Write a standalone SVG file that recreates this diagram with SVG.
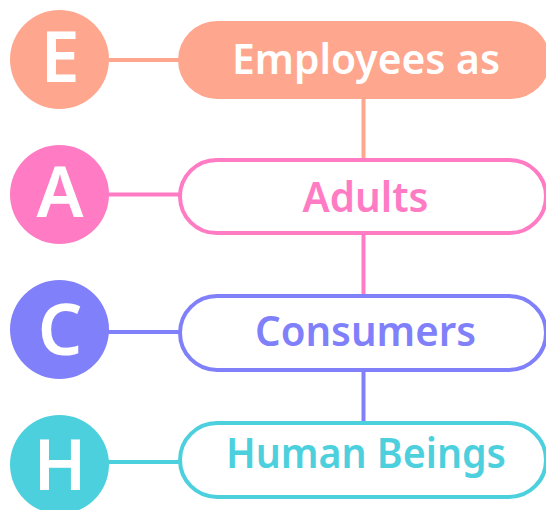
<svg xmlns="http://www.w3.org/2000/svg" width="546" height="510" viewBox="0 0 546 510">
<style>
.lbl{font-family:"Noto Sans","DejaVu Sans",sans-serif;font-weight:600;font-size:42px;text-anchor:middle}
.ini{font-family:"Noto Sans","DejaVu Sans",sans-serif;font-weight:600;font-size:70px;fill:#fff;text-anchor:middle}
.c{stroke-width:4;fill:none}
.pill{stroke-width:4;fill:#fff}
</style>
<rect width="546" height="510" fill="#fff"/>
<g id="connectors">
<line class="c" x1="105" y1="60" x2="180" y2="60" stroke="#FFA68E"/>
<line class="c" x1="363.5" y1="98" x2="363.5" y2="160" stroke="#FFA68E"/>
<line class="c" x1="105" y1="194.5" x2="180" y2="194.5" stroke="#FF7CC5"/>
<line class="c" x1="363.5" y1="234" x2="363.5" y2="296" stroke="#FF7CC5"/>
<line class="c" x1="105" y1="332" x2="180" y2="332" stroke="#8080FA"/>
<line class="c" x1="363.5" y1="370" x2="363.5" y2="423" stroke="#8080FA"/>
<line class="c" x1="105" y1="462" x2="180" y2="462" stroke="#4DD0DD"/>
</g>
<g id="node-E">
<circle cx="59.5" cy="59.5" r="49.5" fill="#FFA68E"/>
<text class="ini" x="60" y="82">E</text>
</g>
<g id="node-employees">
<rect x="178" y="21" width="372" height="78" rx="39" fill="#FFA68E"/>
<text class="lbl" x="366" y="74" fill="#fff" textLength="268" lengthAdjust="spacingAndGlyphs">Employees as</text>
</g>
<g id="node-A">
<circle cx="59.5" cy="194.5" r="49.5" fill="#FF7CC5"/>
<text class="ini" x="60" y="217">A</text>
</g>
<g id="node-adults">
<rect class="pill" x="180" y="160" width="366" height="73" rx="36.5" stroke="#FF7CC5"/>
<text class="lbl" x="365.5" y="211.5" fill="#FF7CC5" textLength="126" lengthAdjust="spacingAndGlyphs">Adults</text>
</g>
<g id="node-C">
<circle cx="59.5" cy="329.5" r="49.5" fill="#8080FA"/>
<text class="ini" x="60" y="354.5">C</text>
</g>
<g id="node-consumers">
<rect class="pill" x="180" y="296" width="366" height="74" rx="37" stroke="#8080FA"/>
<text class="lbl" x="365.5" y="345.5" fill="#8080FA" textLength="221" lengthAdjust="spacingAndGlyphs">Consumers</text>
</g>
<g id="node-H">
<circle cx="59.5" cy="464.5" r="49.5" fill="#4DD0DD"/>
<text class="ini" x="60" y="490">H</text>
</g>
<g id="node-human">
<rect class="pill" x="180" y="423" width="366" height="74" rx="37" stroke="#4DD0DD"/>
<text class="lbl" x="366" y="468" fill="#4DD0DD" textLength="280" lengthAdjust="spacingAndGlyphs">Human Beings</text>
</g>
</svg>
